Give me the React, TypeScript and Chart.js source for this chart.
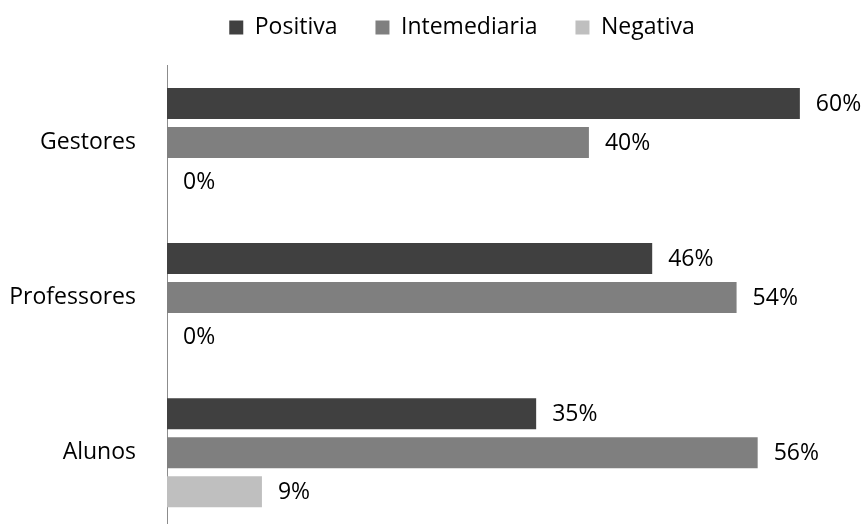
import React, { useEffect, useRef } from "react";
import { Chart, registerables } from "chart.js";

Chart.register(...registerables);

const categories = ["Gestores", "Professores", "Alunos"];
const seriesNames = ["Positiva", "Intemediaria", "Negativa"];
const positiva = [60, 46, 35];
const intemediaria = [40, 54, 56];
const negativa = [0, 0, 9];
const seriesColors = ["#404040", "#7f7f7f", "#bfbfbf"];

const FONT = "'Open Sans', sans-serif";

const valueLabels = {
  id: "valueLabels",
  afterDatasetsDraw(chart: any) {
    const ctx = chart.ctx;
    ctx.save();
    ctx.font = `23px ${FONT}`;
    ctx.fillStyle = "#000000";
    ctx.textAlign = "left";
    ctx.textBaseline = "middle";
    chart.data.datasets.forEach((ds: any, di: number) => {
      const meta = chart.getDatasetMeta(di);
      meta.data.forEach((bar: any, i: number) => {
        ctx.fillText(`${ds.data[i]}%`, bar.x + 16, bar.y + 1);
      });
    });
    ctx.restore();
  },
};

export default function App() {
  const ref = useRef<HTMLCanvasElement | null>(null);
  useEffect(() => {
    if (!ref.current) return;
    Chart.defaults.font.family = FONT;
    const values = [positiva, intemediaria, negativa];
    const chart = new Chart(ref.current, {
      type: "bar",
      data: {
        labels: categories,
        datasets: seriesNames.map((name, k) => ({
          label: name,
          data: values[k],
          backgroundColor: seriesColors[k],
          borderWidth: 0,
          categoryPercentage: 0.755,
          barPercentage: 0.795,
        })),
      },
      options: {
        indexAxis: "y",
        responsive: false,
        animation: false,
        layout: { padding: { left: 6, right: 0, top: 0, bottom: 0 } },
        plugins: {
          legend: {
            position: "top",
            align: "center",
            labels: {
              boxWidth: 14,
              boxHeight: 14,
              padding: 38,
              color: "#000000",
              font: { size: 23, family: FONT },
            },
          },
          tooltip: { enabled: false },
        },
        scales: {
          x: {
            position: "top",
            min: 0,
            max: 71.2,
            grid: { display: false, drawTicks: false },
            border: { display: false },
            ticks: { display: false },
            afterFit: (scale: any) => {
              scale.height = 16;
            },
          },
          y: {
            grid: { display: false, drawTicks: false },
            border: { display: true, color: "#8c8c8c", width: 1 },
            ticks: {
              padding: 31,
              color: "#000000",
              font: { size: 23, family: FONT },
            },
            afterFit: (scale: any) => {
              scale.width = 161;
            },
          },
        },
      },
      plugins: [valueLabels],
    });
    return () => chart.destroy();
  }, []);

  return (
    <div
      style={{
        position: "fixed",
        top: 0,
        left: 0,
        width: 865,
        height: 524,
        overflow: "hidden",
        background: "#ffffff",
      }}
    >
      <canvas
        ref={ref}
        width={918}
        height={597}
        style={{ display: "block", marginTop: -22, width: 918, height: 597 }}
      />
    </div>
  );
}
